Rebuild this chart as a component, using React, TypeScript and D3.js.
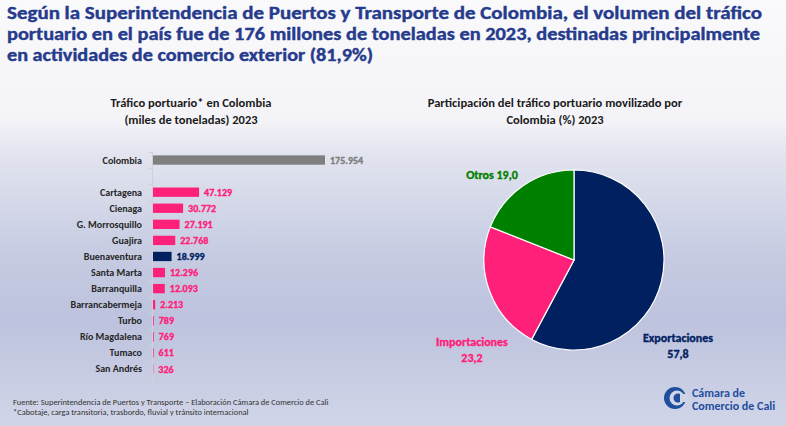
import React from "react";
import * as d3 from "d3";

const W = 786, H = 426;

const titleLines = [
  "Según la Superintendencia de Puertos y Transporte de Colombia, el volumen del tráfico",
  "portuario en el país fue de 176 millones de toneladas en 2023, destinadas principalmente",
  "en actividades de comercio exterior (81,9%)",
];
const titleWidths = [755, 753, 366];

const ports = ["Colombia", "", "Cartagena", "Cienaga", "G. Morrosquillo", "Guajira", "Buenaventura", "Santa Marta", "Barranquilla", "Barrancabermeja", "Turbo", "Río Magdalena", "Tumaco", "San Andrés"];
const portValues = [175954, null, 47129, 30772, 27191, 22768, 18999, 12296, 12093, 2213, 789, 769, 611, 326];
const portColors = ["#7f7f7f", "none", "#ff2079", "#ff2079", "#ff2079", "#ff2079", "#002060", "#ff2079", "#ff2079", "#ff2079", "#ff2079", "#ff2079", "#ff2079", "#ff2079"];

const pieLabels = ["Exportaciones", "Importaciones", "Otros"];
const pieValues = [57.8, 23.2, 19.0];
const pieColors = ["#002060", "#ff2079", "#008000"];

const loc = d3.formatLocale({ decimal: ",", thousands: ".", grouping: [3], currency: ["$", ""] });
const fmt = loc.format(",d");
const fmt1 = loc.format(".1f");

export default function App() {
  const y = d3.scaleBand<string>().domain(ports.map((p, i) => i + "")).range([152, 377]).paddingInner(0.42).paddingOuter(0.21);
  const x = d3.scaleLinear().domain([0, 175954]).range([153, 325]);
  const bandStep = y.step();

  const pie = d3.pie<number>().sort(null).value((d) => d)(pieValues);
  const arc = d3.arc<d3.PieArcDatum<number>>().innerRadius(0).outerRadius(90);
  const cx = 574, cy = 260;

  const font = "Carlito, Calibri, Lato, 'Open Sans', sans-serif";

  return (
    <svg width={W} height={H} style={{ position: "absolute", left: 0, top: 0 }} fontFamily={font}>
      <defs>
        <linearGradient id="bg" x1="0" y1="0" x2="0" y2="1">
          <stop offset="0" stopColor="#fafafc" />
          <stop offset="0.28" stopColor="#f4f4f8" />
          <stop offset="0.36" stopColor="#e2e4ef" />
          <stop offset="0.6" stopColor="#c6cbe2" />
          <stop offset="0.75" stopColor="#bdc3de" />
          <stop offset="1" stopColor="#d1d5e8" />
        </linearGradient>
      </defs>
      <rect x={0} y={0} width={W} height={H} fill="url(#bg)" />

      {titleLines.map((t, i) => (
        <text key={i} x={7} y={19 + i * 21} fontSize={17.5} fontWeight="bold" fill="#263b8c"
          stroke="#263b8c" strokeWidth={0.4}
          textLength={titleWidths[i]} lengthAdjust="spacingAndGlyphs">{t}</text>
      ))}

      <g fontSize={12.5} fontWeight="bold" fill="#1a1a1a" textAnchor="middle">
        <text x={191} y={107}>Tráfico portuario* en Colombia</text>
        <text x={191} y={124}>(miles de toneladas) 2023</text>
        <text x={555} y={107}>Participación del tráfico portuario movilizado por</text>
        <text x={555} y={124}>Colombia (%) 2023</text>
      </g>

      {/* axis */}
      <line x1={152.5} x2={152.5} y1={152} y2={383} stroke="#d0d0d8" strokeWidth={1} />
      {d3.range(ports.length + 1).map((i) => (
        <line key={"t" + i} x1={149} x2={152.5} y1={152 + i * bandStep + 0.5} y2={152 + i * bandStep + 0.5} stroke="#d0d0d8" />
      ))}

      {ports.map((p, i) => {
        const v = portValues[i];
        const yy = y(i + "")!;
        const mid = yy + y.bandwidth() / 2;
        return (
          <g key={i}>
            <text x={142} y={mid + 3.5} fontSize={10} fontWeight="bold" fill="#262626" textAnchor="end">{p}</text>
            {v !== null && (
              <>
                <rect x={x(0)} y={yy} width={x(v) - x(0)} height={y.bandwidth()} fill={portColors[i]} />
                <text x={x(v) + 5} y={mid + 3.6} fontSize={10} fontWeight="bold" fill={portColors[i]}
                  stroke={portColors[i]} strokeWidth={0.35}>{fmt(v)}</text>
              </>
            )}
          </g>
        );
      })}

      <g transform={`translate(${cx},${cy})`}>
        {pie.map((d, i) => (
          <path key={i} d={arc(d)!} fill={pieColors[i]} stroke="#ffffff" strokeWidth={1.2} />
        ))}
      </g>
      <g fontSize={12} fontWeight="bold" textAnchor="middle" strokeWidth={0.35}>
        <text x={492} y={179} fill={pieColors[2]} stroke={pieColors[2]}>{pieLabels[2]} {fmt1(pieValues[2])}</text>
        <text x={472} y={346} fill={pieColors[1]} stroke={pieColors[1]}>{pieLabels[1]}</text>
        <text x={472} y={362} fill={pieColors[1]} stroke={pieColors[1]}>{fmt1(pieValues[1])}</text>
        <text x={678} y={342} fill={pieColors[0]} stroke={pieColors[0]}>{pieLabels[0]}</text>
        <text x={678} y={358} fill={pieColors[0]} stroke={pieColors[0]}>{fmt1(pieValues[0])}</text>
      </g>

      <g fontSize={8.4} fill="#333">
        <text x={13} y={405}>Fuente: Superintendencia de Puertos y Transporte – Elaboración Cámara de Comercio de Cali</text>
        <text x={13} y={415}>*Cabotaje, carga transitoria, trasbordo, fluvial y tránsito internacional</text>
      </g>

      {/* logo */}
      <g>
        <circle cx={675} cy={398} r={11} fill="#1f4e9f" />
        <circle cx={677} cy={398} r={7.5} fill="#d0d5e8" />
        <circle cx={678} cy={398} r={4.5} fill="#1f4e9f" />
        <rect x={680} y={394} width={8} height={8} fill="#d0d5e8" />
        <text x={692} y={397} fontSize={12} fontWeight="bold" fill="#1f4e9f">Cámara de</text>
        <text x={692} y={410} fontSize={12} fontWeight="bold" fill="#1f4e9f">Comercio de Cali</text>
      </g>
    </svg>
  );
}
